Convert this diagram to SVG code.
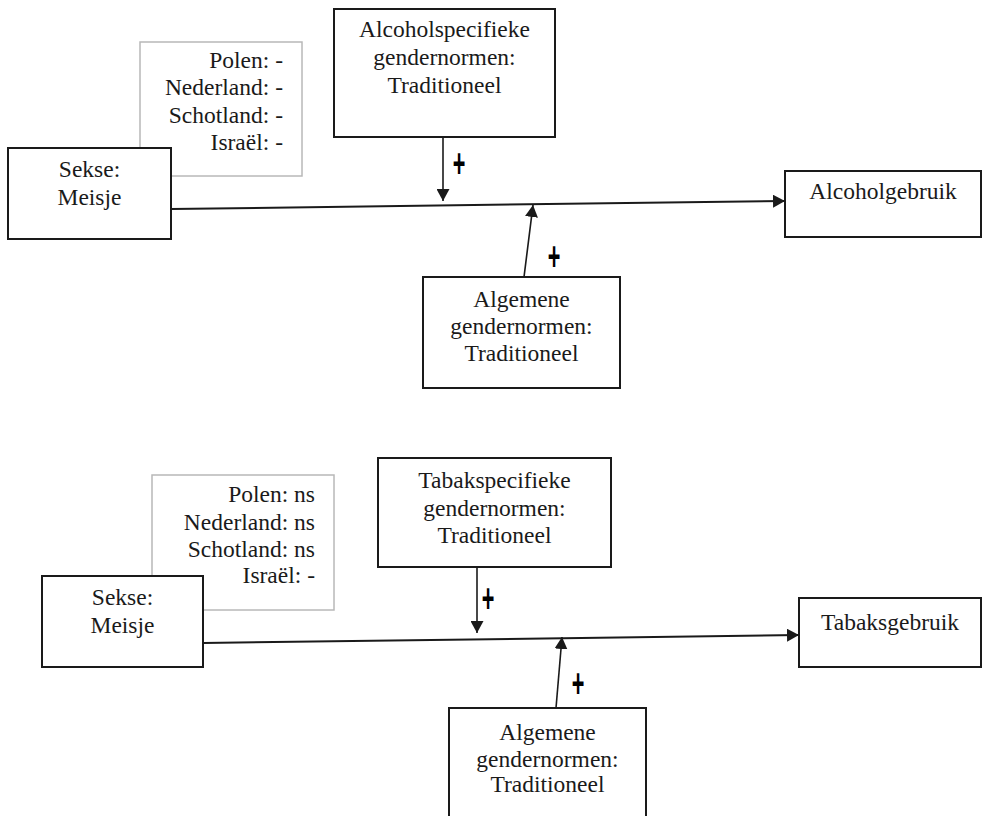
<svg xmlns="http://www.w3.org/2000/svg" width="985" height="816" viewBox="0 0 985 816">
  <style>
    .box { fill: #ffffff; stroke: #1a1a1a; stroke-width: 2; }
    .gbox { fill: #ffffff; stroke: #b8b8b8; stroke-width: 1.5; }
    .t { font-family: "Liberation Serif", "Times New Roman", serif; font-size: 23.5px; fill: #1a1a1a; }
    .c { text-anchor: middle; }
    .r { text-anchor: end; }
    .line { stroke: #1a1a1a; stroke-width: 2; fill: none; }
    .arr { stroke: #1a1a1a; stroke-width: 1.6; fill: none; }
    .plus { font-family: "Liberation Sans", Arial, sans-serif; font-size: 24px; font-weight: bold; fill: #000; text-anchor: middle; }
  </style>
  <defs>
    <marker id="ah" markerUnits="userSpaceOnUse" markerWidth="13" markerHeight="13" refX="12" refY="6.5" orient="auto">
      <path d="M0,0 L12,6.5 L0,13 Z" fill="#1a1a1a"/>
    </marker>
  </defs>
  <rect width="985" height="816" fill="#ffffff"/>

  <!-- Top diagram -->
  <g id="landen-alcohol">
    <rect class="gbox" x="140" y="42" width="162" height="134"/>
    <text class="t r" x="283" y="68">Polen: -</text>
    <text class="t r" x="283" y="95">Nederland: -</text>
    <text class="t r" x="283" y="123">Schotland: -</text>
    <text class="t r" x="283" y="150">Israël: -</text>
  </g>
  <g id="sekse-alcohol">
    <rect class="box" x="8" y="148" width="163" height="91"/>
    <text class="t c" x="89.5" y="177">Sekse:</text>
    <text class="t c" x="89.5" y="205">Meisje</text>
  </g>
  <g id="alcoholspecifiek">
    <rect class="box" x="334" y="9" width="221" height="128"/>
    <text class="t c" x="444.5" y="37">Alcoholspecifieke</text>
    <text class="t c" x="444.5" y="65">gendernormen:</text>
    <text class="t c" x="444.5" y="93">Traditioneel</text>
  </g>
  <g id="alcoholgebruik">
    <rect class="box" x="785" y="171" width="196" height="66"/>
    <text class="t c" x="883" y="199">Alcoholgebruik</text>
  </g>
  <g id="algemeen-alcohol">
    <rect class="box" x="423" y="277" width="197" height="111"/>
    <text class="t c" x="521.5" y="307">Algemene</text>
    <text class="t c" x="521.5" y="334">gendernormen:</text>
    <text class="t c" x="521.5" y="361">Traditioneel</text>
  </g>

  <!-- Bottom diagram -->
  <g id="landen-tabak">
    <rect class="gbox" x="152" y="475" width="182" height="135"/>
    <text class="t r" x="315" y="502">Polen: ns</text>
    <text class="t r" x="315" y="530">Nederland: ns</text>
    <text class="t r" x="315" y="557">Schotland: ns</text>
    <text class="t r" x="315" y="583">Israël: -</text>
  </g>
  <g id="sekse-tabak">
    <rect class="box" x="42" y="576" width="161" height="91"/>
    <text class="t c" x="122.5" y="605">Sekse:</text>
    <text class="t c" x="122.5" y="633">Meisje</text>
  </g>
  <g id="tabakspecifiek">
    <rect class="box" x="378" y="458" width="233" height="109"/>
    <text class="t c" x="494.5" y="488">Tabakspecifieke</text>
    <text class="t c" x="494.5" y="516">gendernormen:</text>
    <text class="t c" x="494.5" y="543">Traditioneel</text>
  </g>
  <g id="tabaksgebruik">
    <rect class="box" x="799" y="598" width="182" height="69"/>
    <text class="t c" x="890" y="630">Tabaksgebruik</text>
  </g>
  <g id="algemeen-tabak">
    <rect class="box" x="449" y="708" width="197" height="114"/>
    <text class="t c" x="547.5" y="740">Algemene</text>
    <text class="t c" x="547.5" y="767">gendernormen:</text>
    <text class="t c" x="547.5" y="792">Traditioneel</text>
  </g>

  <g id="connectors">
    <line class="line" x1="171" y1="209" x2="785" y2="201" marker-end="url(#ah)"/>
    <line class="arr" x1="443" y1="137" x2="443" y2="201" marker-end="url(#ah)"/>
    <line class="arr" x1="524" y1="277" x2="533" y2="205" marker-end="url(#ah)"/>
    <line class="line" x1="203" y1="643" x2="799" y2="635" marker-end="url(#ah)"/>
    <line class="arr" x1="477" y1="567" x2="477" y2="633" marker-end="url(#ah)"/>
    <line class="arr" x1="556" y1="708" x2="562" y2="637" marker-end="url(#ah)"/>
  </g>

  <g id="labels">
    <text class="plus" transform="translate(459,163) scale(0.9,1.7)" y="8.5">+</text>
    <text class="plus" transform="translate(554,256) scale(0.9,1.7)" y="8.5">+</text>
    <text class="plus" transform="translate(488,598) scale(0.9,1.7)" y="8.5">+</text>
    <text class="plus" transform="translate(578,683) scale(0.9,1.7)" y="8.5">+</text>
  </g>
</svg>
